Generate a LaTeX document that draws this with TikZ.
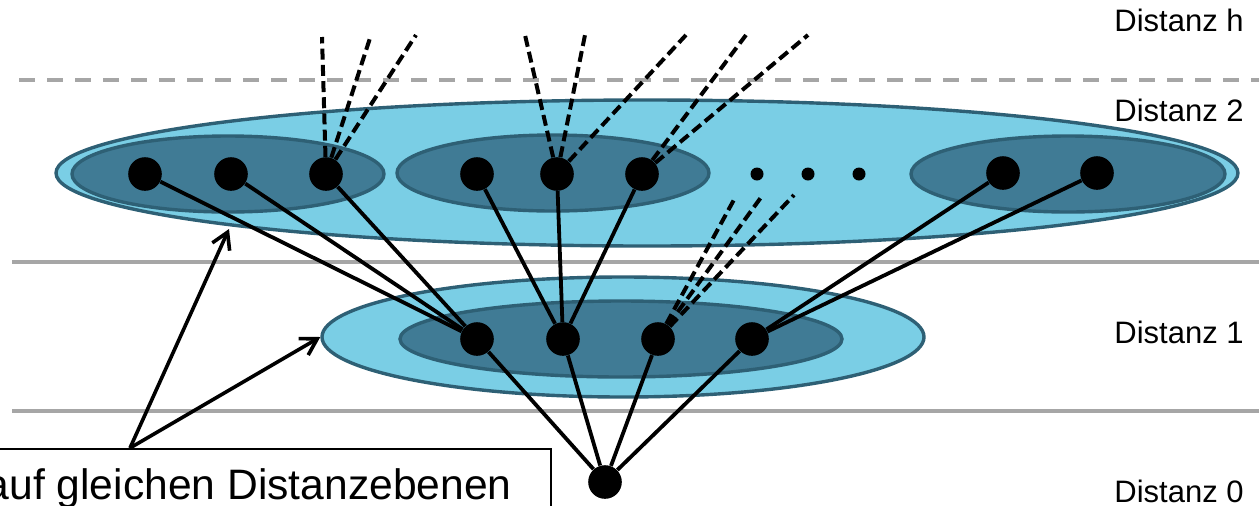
\documentclass[tikz,border=0pt]{standalone}
\usepackage{fontspec}
\setmainfont{Liberation Sans}
\usetikzlibrary{shapes.geometric,arrows.meta}
\definecolor{lightblue}{RGB}{122,206,229}
\definecolor{darkblue}{RGB}{64,123,149}
\definecolor{rimblue}{RGB}{46,96,117}
\definecolor{gridgray}{RGB}{166,166,166}
\begin{document}
\begin{tikzpicture}[x=0.5pt,y=-0.5pt,
  gridline/.style={draw=gridgray,line width=1.9pt},
  outerell/.style={ellipse,draw=rimblue,fill=lightblue,line width=1.7pt,inner sep=0pt},
  innerell/.style={ellipse,draw=rimblue,fill=darkblue,line width=1.7pt,inner sep=0pt,minimum height=38pt},
  vertex/.style={circle,fill=black,inner sep=0pt,minimum size=16.8pt},
  smalldot/.style={circle,fill=black,inner sep=0pt,minimum size=6.5pt},
  edge/.style={draw=black,line width=1.9pt},
  openedge/.style={draw=black,line width=2pt,dash pattern=on 5.5pt off 2.6pt},
  callarrow/.style={draw=black,line width=1.8pt,-{Straight Barb[length=8pt,width=9.5pt]}},
  levellabel/.style={anchor=base west,font=\fontsize{15.5pt}{18pt}\selectfont,inner sep=0pt},
  calltext/.style={anchor=base east,font=\fontsize{21.3pt}{25pt}\selectfont,inner sep=0pt}
]
\useasboundingbox (0,0) rectangle (1259,505);
\clip (0,0) rectangle (1259,505);

% distance levels
\draw[gridline,dash pattern=on 8pt off 6pt] (19,80) -- (1259,80);
\draw[gridline] (12,262) -- (1259,262);
\draw[gridline] (12,411) -- (1259,411);

% ellipses
\node[outerell,minimum width=591pt,minimum height=73pt] (e2) at (647,173) {};
\node[innerell,minimum width=156pt] (e2a) at (228,174) {};
\node[innerell,minimum width=156pt] (e2b) at (553,173) {};
\node[innerell,minimum width=157pt] (e2c) at (1068,174) {};
\node[outerell,minimum width=301pt,minimum height=60pt] (e1) at (623,337) {};
\node[innerell,minimum width=221pt] (e1a) at (621,339) {};

% vertices
\node[vertex] (a1) at (145,174) {};
\node[vertex] (a2) at (231,174) {};
\node[vertex] (a3) at (326,174) {};
\node[vertex] (a4) at (477,174) {};
\node[vertex] (a5) at (557,174) {};
\node[vertex] (a6) at (642,174) {};
\node[vertex] (a7) at (1003,173) {};
\node[vertex] (a8) at (1097,173) {};
\node[smalldot] (d1) at (757,174) {};
\node[smalldot] (d2) at (808,174) {};
\node[smalldot] (d3) at (859,174) {};
\node[vertex] (b1) at (477,339) {};
\node[vertex] (b2) at (563,339) {};
\node[vertex] (b3) at (658,339) {};
\node[vertex] (b4) at (752,339) {};
\node[vertex] (r) at (605,482) {};

% tree edges
\draw[edge] (r) -- (b1);
\draw[edge] (r) -- (b2);
\draw[edge] (r) -- (b3);
\draw[edge] (r) -- (b4);
\draw[edge] (b1) -- (a1);
\draw[edge] (b1) -- (a2);
\draw[edge] (b1) -- (a3);
\draw[edge] (b2) -- (a4);
\draw[edge] (b2) -- (a5);
\draw[edge] (b2) -- (a6);
\draw[edge] (b4) -- (a7);
\draw[edge] (b4) -- (a8);

% open ends
\coordinate (u1) at (322,37);
\coordinate (u2) at (371,35);
\coordinate (u3) at (416,35);
\coordinate (u4) at (525,35);
\coordinate (u5) at (585,35);
\coordinate (u6) at (686,35);
\coordinate (u7) at (746,35);
\coordinate (u8) at (808,35);
\coordinate (v1) at (736,196);
\coordinate (v2) at (762,196);
\coordinate (v3) at (794,195);
\draw[openedge] (a3) -- (u1);
\draw[openedge] (a3) -- (u2);
\draw[openedge] (a3) -- (u3);
\draw[openedge] (a5) -- (u4);
\draw[openedge] (a5) -- (u5);
\draw[openedge] (a5) -- (u6);
\draw[openedge] (a6) -- (u7);
\draw[openedge] (a6) -- (u8);
\draw[openedge] (b3) -- (v1);
\draw[openedge] (b3) -- (v2);
\draw[openedge] (b3) -- (v3);

% callout
\node[draw=black,line width=1pt,fill=white,anchor=north east,minimum width=281pt,minimum height=45pt,inner sep=0pt] (box) at (552,448) {};
\node[calltext] (ct) at (512,499) {auf gleichen Distanzebenen};
\coordinate (cs) at (130,448);
\coordinate (t2) at (229,229);
\draw[callarrow] (cs) -- (t2);
\draw[callarrow] (cs) -- (e1.west);

% level labels
\node[levellabel] (lh) at (1114,31) {Distanz h};
\node[levellabel] (l2) at (1114,121) {Distanz 2};
\node[levellabel] (l1) at (1114,343) {Distanz 1};
\node[levellabel] (l0) at (1114,502) {Distanz 0};
\end{tikzpicture}
\end{document}
